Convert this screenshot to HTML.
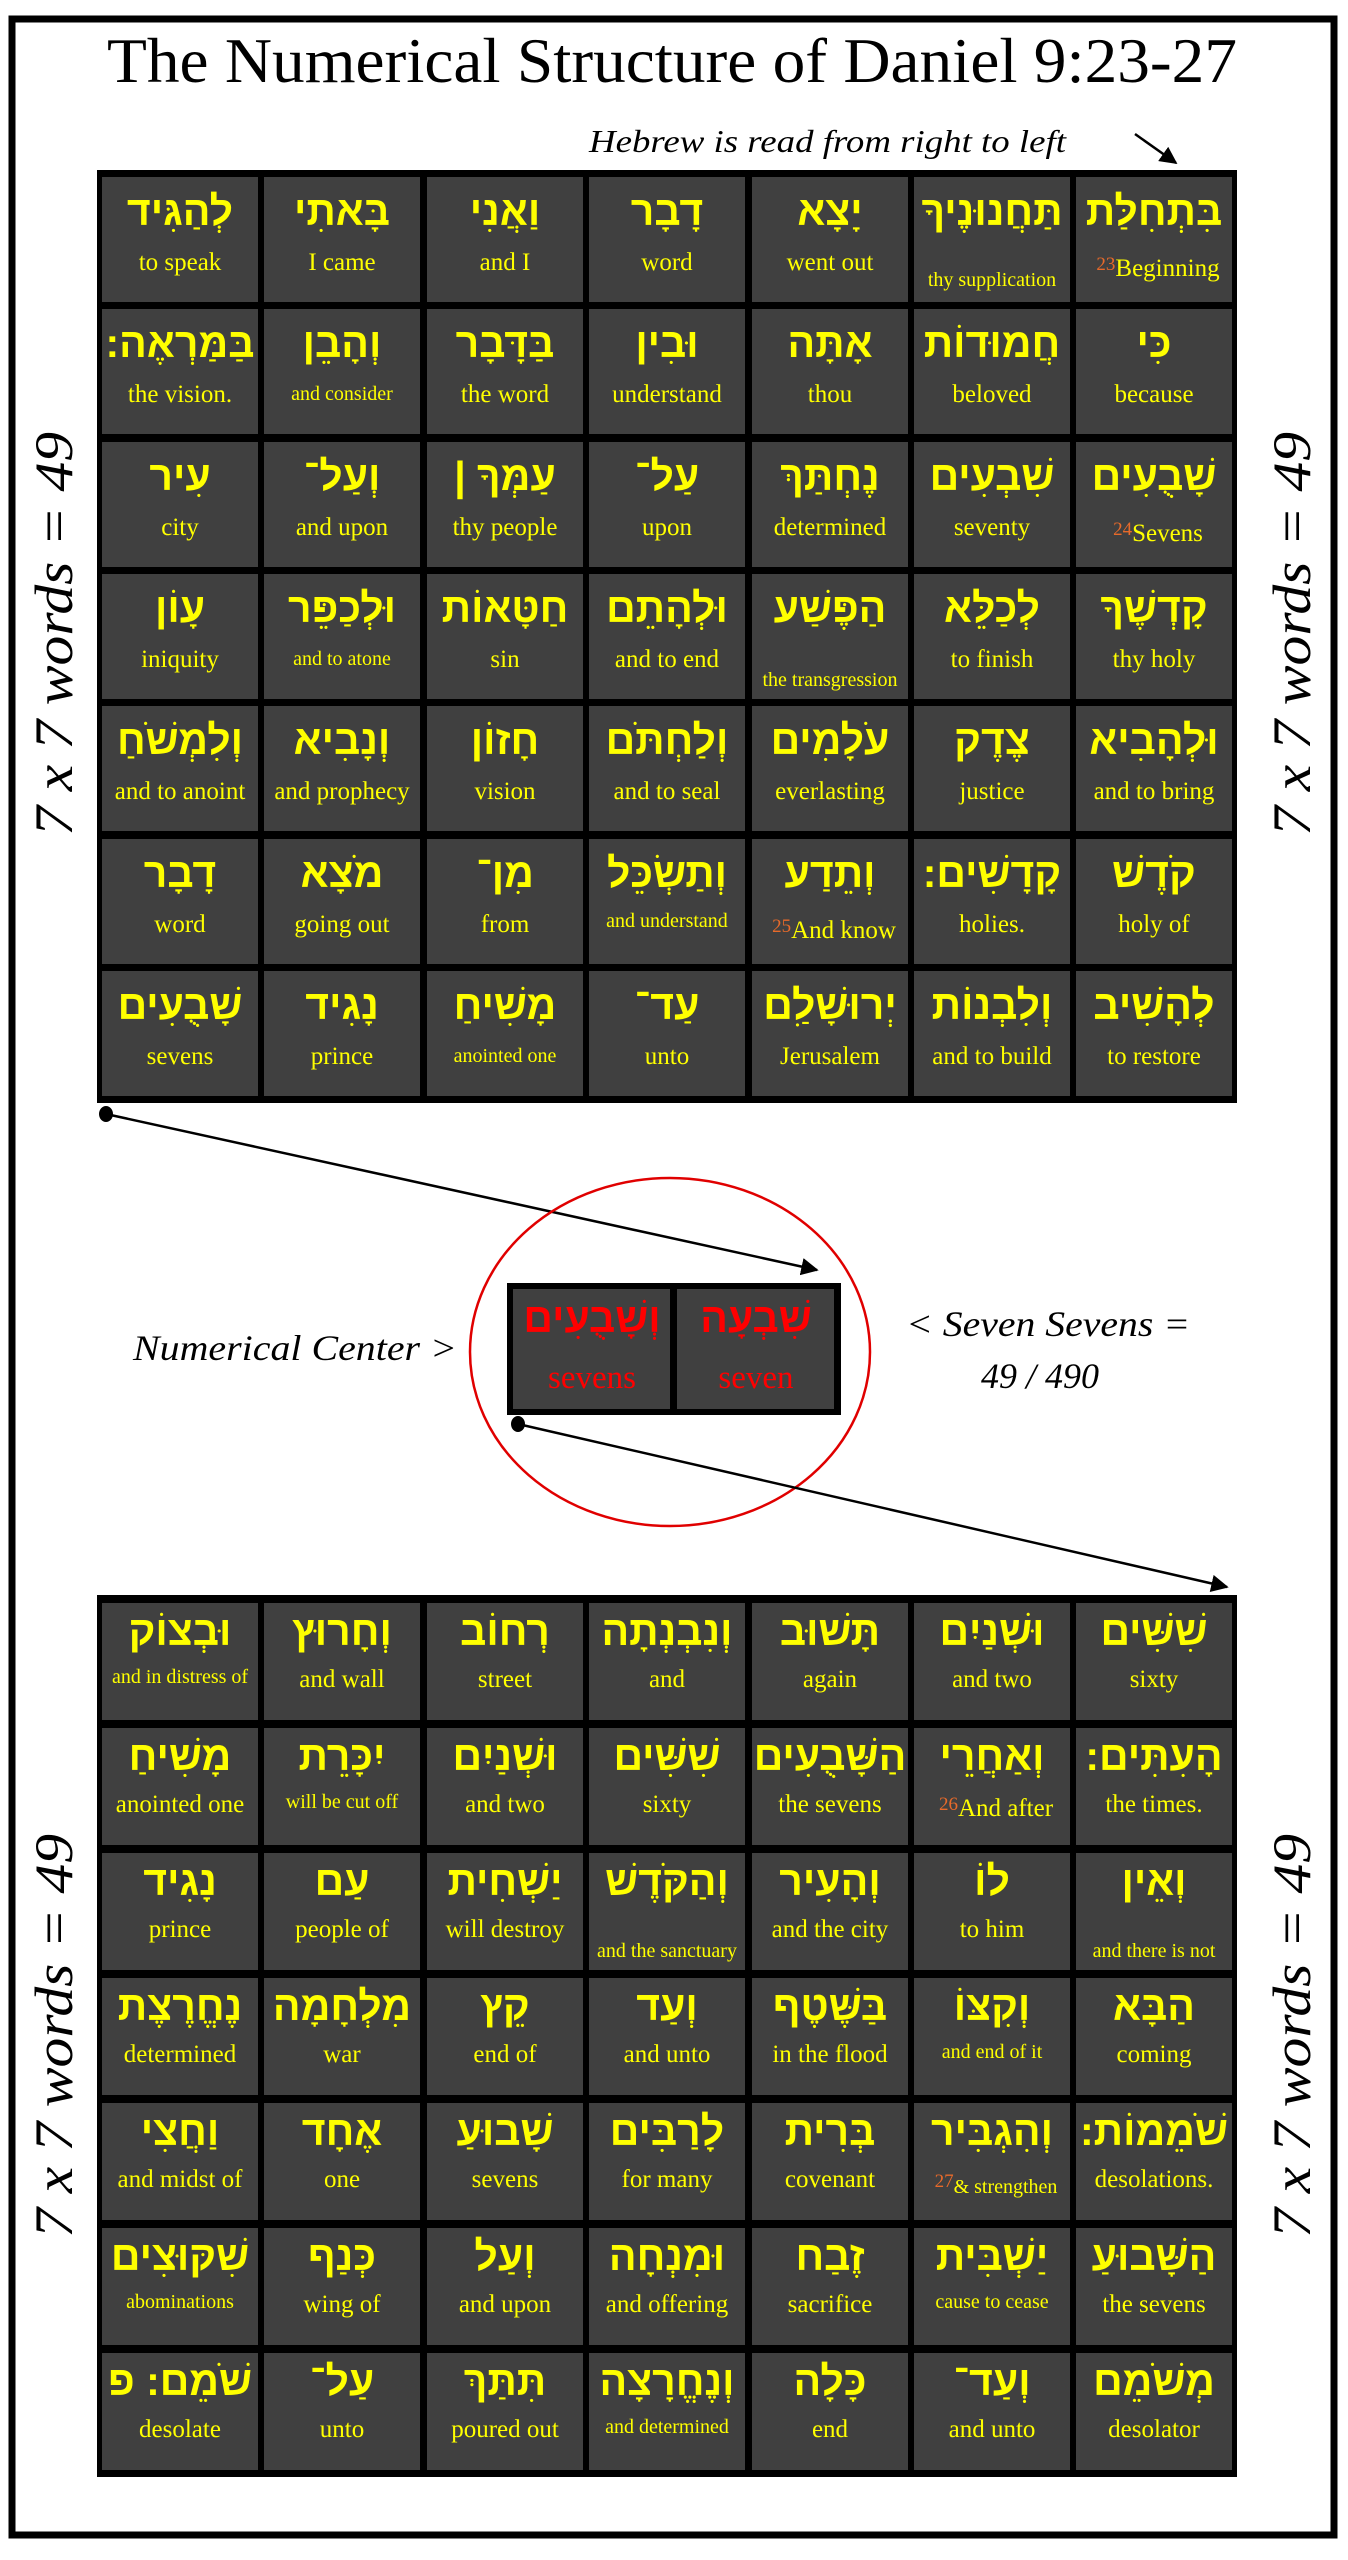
<!DOCTYPE html>
<html><head><meta charset="utf-8"><style>
html,body{margin:0;padding:0;background:#fff}
svg{display:block}
.h{font-family:"Liberation Sans","DejaVu Sans",sans-serif;font-weight:bold;font-size:41px;fill:#ffff00;text-anchor:middle;direction:rtl}
.e{font-family:"Liberation Serif",serif;font-size:25px;fill:#ffff00;text-anchor:middle}
.s{font-family:"Liberation Serif",serif;font-size:20px;fill:#ffff00;text-anchor:middle}
.n{font-size:19px;fill:#e86a2a}
.i{font-family:"Liberation Serif",serif;font-style:italic;fill:#000}
</style></head><body>
<svg width="1348" height="2560" viewBox="0 0 1348 2560" xmlns="http://www.w3.org/2000/svg">
<defs><marker id="ar" viewBox="0 0 10 10" refX="9" refY="5" markerWidth="7" markerHeight="7" orient="auto-start-reverse"><path d="M0,0 L10,5 L0,10 z" fill="#000"/></marker></defs>
<rect x="12" y="19" width="1322" height="2516" fill="none" stroke="#000" stroke-width="7"/>
<text x="672" y="82" font-family="Liberation Serif,serif" font-size="64" text-anchor="middle" textLength="1130" lengthAdjust="spacingAndGlyphs">The Numerical Structure of Daniel 9:23-27</text>
<text class="i" x="589" y="152" font-size="32" textLength="477" lengthAdjust="spacingAndGlyphs">Hebrew is read from right to left</text>
<line x1="1135" y1="134" x2="1176" y2="163" stroke="#000" stroke-width="2.5" marker-end="url(#ar)"/>
<text class="i" transform="translate(72,836) rotate(-90)" font-size="54" textLength="404" lengthAdjust="spacingAndGlyphs">7 x 7 words = 49</text>
<text class="i" transform="translate(1310,836) rotate(-90)" font-size="54" textLength="404" lengthAdjust="spacingAndGlyphs">7 x 7 words = 49</text>
<text class="i" transform="translate(72,2238) rotate(-90)" font-size="54" textLength="404" lengthAdjust="spacingAndGlyphs">7 x 7 words = 49</text>
<text class="i" transform="translate(1310,2238) rotate(-90)" font-size="54" textLength="404" lengthAdjust="spacingAndGlyphs">7 x 7 words = 49</text>

<!-- TOP GRID -->
<rect x="97" y="170" width="1140" height="933" fill="#000"/>
<g fill="#404040">
<g transform="translate(0,177)"><rect x="102" width="156" height="125"/><rect x="264" width="156" height="125"/><rect x="427" width="156" height="125"/><rect x="589" width="156" height="125"/><rect x="752" width="156" height="125"/><rect x="914" width="156" height="125"/><rect x="1076" width="156" height="125"/></g>
<g transform="translate(0,309)"><rect x="102" width="156" height="125"/><rect x="264" width="156" height="125"/><rect x="427" width="156" height="125"/><rect x="589" width="156" height="125"/><rect x="752" width="156" height="125"/><rect x="914" width="156" height="125"/><rect x="1076" width="156" height="125"/></g>
<g transform="translate(0,442)"><rect x="102" width="156" height="125"/><rect x="264" width="156" height="125"/><rect x="427" width="156" height="125"/><rect x="589" width="156" height="125"/><rect x="752" width="156" height="125"/><rect x="914" width="156" height="125"/><rect x="1076" width="156" height="125"/></g>
<g transform="translate(0,574)"><rect x="102" width="156" height="125"/><rect x="264" width="156" height="125"/><rect x="427" width="156" height="125"/><rect x="589" width="156" height="125"/><rect x="752" width="156" height="125"/><rect x="914" width="156" height="125"/><rect x="1076" width="156" height="125"/></g>
<g transform="translate(0,706)"><rect x="102" width="156" height="125"/><rect x="264" width="156" height="125"/><rect x="427" width="156" height="125"/><rect x="589" width="156" height="125"/><rect x="752" width="156" height="125"/><rect x="914" width="156" height="125"/><rect x="1076" width="156" height="125"/></g>
<g transform="translate(0,839)"><rect x="102" width="156" height="125"/><rect x="264" width="156" height="125"/><rect x="427" width="156" height="125"/><rect x="589" width="156" height="125"/><rect x="752" width="156" height="125"/><rect x="914" width="156" height="125"/><rect x="1076" width="156" height="125"/></g>
<g transform="translate(0,971)"><rect x="102" width="156" height="125"/><rect x="264" width="156" height="125"/><rect x="427" width="156" height="125"/><rect x="589" width="156" height="125"/><rect x="752" width="156" height="125"/><rect x="914" width="156" height="125"/><rect x="1076" width="156" height="125"/></g>
</g>
<g transform="translate(0,177)">
<text class="h" x="180" y="48">לְהַגִּיד</text><text class="e" x="180" y="93">to speak</text>
<text class="h" x="342" y="48">בָּאתִי</text><text class="e" x="342" y="93">I came</text>
<text class="h" x="505" y="48">וַאֲנִי</text><text class="e" x="505" y="93">and I</text>
<text class="h" x="667" y="48">דָבָר</text><text class="e" x="667" y="93">word</text>
<text class="h" x="830" y="48">יָצָא</text><text class="e" x="830" y="93">went out</text>
<text class="h" x="992" y="48">תַּחֲנוּנֶיךָ</text><text class="s" x="992" y="109">thy supplication</text>
<text class="h" x="1154" y="48">בִּתְחִלַּת</text><text class="e" x="1158" y="99"><tspan class="n" dy="-6">23</tspan><tspan dy="6">Beginning</tspan></text>
</g>
<g transform="translate(0,309)">
<text class="h" x="180" y="48">בַּמַּרְאֶה:</text><text class="e" x="180" y="93">the vision.</text>
<text class="h" x="342" y="48">וְהָבֵן</text><text class="s" x="342" y="91">and consider</text>
<text class="h" x="505" y="48">בַּדָּבָר</text><text class="e" x="505" y="93">the word</text>
<text class="h" x="667" y="48">וּבִין</text><text class="e" x="667" y="93">understand</text>
<text class="h" x="830" y="48">אָתָּה</text><text class="e" x="830" y="93">thou</text>
<text class="h" x="992" y="48">חֲמוּדוֹת</text><text class="e" x="992" y="93">beloved</text>
<text class="h" x="1154" y="48">כִּי</text><text class="e" x="1154" y="93">because</text>
</g>
<g transform="translate(0,442)">
<text class="h" x="180" y="48">עִיר</text><text class="e" x="180" y="93">city</text>
<text class="h" x="342" y="48">וְעַל־</text><text class="e" x="342" y="93">and upon</text>
<text class="h" x="505" y="48">עַמְּךָ |</text><text class="e" x="505" y="93">thy people</text>
<text class="h" x="667" y="48">עַל־</text><text class="e" x="667" y="93">upon</text>
<text class="h" x="830" y="48">נֶחְתַּךְ</text><text class="e" x="830" y="93">determined</text>
<text class="h" x="992" y="48">שִׁבְעִים</text><text class="e" x="992" y="93">seventy</text>
<text class="h" x="1154" y="48">שָׁבֻעִים</text><text class="e" x="1158" y="99"><tspan class="n" dy="-6">24</tspan><tspan dy="6">Sevens</tspan></text>
</g>
<g transform="translate(0,574)">
<text class="h" x="180" y="48">עָוֹן</text><text class="e" x="180" y="93">iniquity</text>
<text class="h" x="342" y="48">וּלְכַפֵּר</text><text class="s" x="342" y="91">and to atone</text>
<text class="h" x="505" y="48">חַטָּאוֹת</text><text class="e" x="505" y="93">sin</text>
<text class="h" x="667" y="48">וּלְהָתֵם</text><text class="e" x="667" y="93">and to end</text>
<text class="h" x="830" y="48">הַפֶּשַׁע</text><text class="s" x="830" y="112">the transgression</text>
<text class="h" x="992" y="48">לְכַלֵּא</text><text class="e" x="992" y="93">to finish</text>
<text class="h" x="1154" y="48">קָדְשֶׁךָ</text><text class="e" x="1154" y="93">thy holy</text>
</g>
<g transform="translate(0,706)">
<text class="h" x="180" y="48">וְלִמְשֹׁחַ</text><text class="e" x="180" y="93">and to anoint</text>
<text class="h" x="342" y="48">וְנָבִיא</text><text class="e" x="342" y="93">and prophecy</text>
<text class="h" x="505" y="48">חָזוֹן</text><text class="e" x="505" y="93">vision</text>
<text class="h" x="667" y="48">וְלַחְתֹּם</text><text class="e" x="667" y="93">and to seal</text>
<text class="h" x="830" y="48">עֹלָמִים</text><text class="e" x="830" y="93">everlasting</text>
<text class="h" x="992" y="48">צֶדֶק</text><text class="e" x="992" y="93">justice</text>
<text class="h" x="1154" y="48">וּלְהָבִיא</text><text class="e" x="1154" y="93">and to bring</text>
</g>
<g transform="translate(0,839)">
<text class="h" x="180" y="48">דָבָר</text><text class="e" x="180" y="93">word</text>
<text class="h" x="342" y="48">מֹצָא</text><text class="e" x="342" y="93">going out</text>
<text class="h" x="505" y="48">מִן־</text><text class="e" x="505" y="93">from</text>
<text class="h" x="667" y="48">וְתַשְׂכֵּל</text><text class="s" x="667" y="88">and understand</text>
<text class="h" x="830" y="48">וְתֵדַע</text><text class="e" x="834" y="99"><tspan class="n" dy="-6">25</tspan><tspan dy="6">And know</tspan></text>
<text class="h" x="992" y="48">קָדָשִׁים:</text><text class="e" x="992" y="93">holies.</text>
<text class="h" x="1154" y="48">קֹדֶשׁ</text><text class="e" x="1154" y="93">holy of</text>
</g>
<g transform="translate(0,971)">
<text class="h" x="180" y="48">שָׁבֻעִים</text><text class="e" x="180" y="93">sevens</text>
<text class="h" x="342" y="48">נָגִיד</text><text class="e" x="342" y="93">prince</text>
<text class="h" x="505" y="48">מָשִׁיחַ</text><text class="s" x="505" y="91">anointed one</text>
<text class="h" x="667" y="48">עַד־</text><text class="e" x="667" y="93">unto</text>
<text class="h" x="830" y="48">יְרוּשָׁלִַם</text><text class="e" x="830" y="93">Jerusalem</text>
<text class="h" x="992" y="48">וְלִבְנוֹת</text><text class="e" x="992" y="93">and to build</text>
<text class="h" x="1154" y="48">לְהָשִׁיב</text><text class="e" x="1154" y="93">to restore</text>
</g>

<!-- CENTER -->
<line x1="106" y1="1114" x2="817" y2="1270" stroke="#000" stroke-width="2.5" marker-end="url(#ar)"/>
<ellipse cx="106" cy="1114" rx="7" ry="8" fill="#000"/>
<ellipse cx="670" cy="1352" rx="200" ry="174" fill="none" stroke="#e00000" stroke-width="2.5"/>
<rect x="507" y="1283" width="334" height="132" fill="#000"/>
<rect x="513" y="1289" width="157" height="120" fill="#404040"/>
<rect x="677" y="1289" width="157" height="120" fill="#404040"/>
<text class="h" x="592" y="1332" style="fill:#ff0000">וְשָׁבֻעִים</text>
<text class="h" x="756" y="1332" style="fill:#ff0000">שִׁבְעָה</text>
<text class="e" x="592" y="1388" style="fill:#ff0000;font-size:33px">sevens</text>
<text class="e" x="756" y="1388" style="fill:#ff0000;font-size:33px">seven</text>
<line x1="518" y1="1424" x2="1227" y2="1587" stroke="#000" stroke-width="2.5" marker-end="url(#ar)"/>
<ellipse cx="518" cy="1424" rx="7" ry="8" fill="#000"/>
<text class="i" x="133" y="1360" font-size="36" textLength="324" lengthAdjust="spacingAndGlyphs">Numerical Center &gt;</text>
<text class="i" x="906" y="1336" font-size="36" textLength="284" lengthAdjust="spacingAndGlyphs">&lt; Seven Sevens =</text>
<text class="i" x="1040" y="1388" font-size="36" text-anchor="middle">49 / 490</text>

<!-- BOTTOM GRID -->
<rect x="97" y="1595" width="1140" height="882" fill="#000"/>
<g fill="#404040">
<g transform="translate(0,1603)"><rect x="102" width="156" height="117"/><rect x="264" width="156" height="117"/><rect x="427" width="156" height="117"/><rect x="589" width="156" height="117"/><rect x="752" width="156" height="117"/><rect x="914" width="156" height="117"/><rect x="1076" width="156" height="117"/></g>
<g transform="translate(0,1728)"><rect x="102" width="156" height="117"/><rect x="264" width="156" height="117"/><rect x="427" width="156" height="117"/><rect x="589" width="156" height="117"/><rect x="752" width="156" height="117"/><rect x="914" width="156" height="117"/><rect x="1076" width="156" height="117"/></g>
<g transform="translate(0,1853)"><rect x="102" width="156" height="117"/><rect x="264" width="156" height="117"/><rect x="427" width="156" height="117"/><rect x="589" width="156" height="117"/><rect x="752" width="156" height="117"/><rect x="914" width="156" height="117"/><rect x="1076" width="156" height="117"/></g>
<g transform="translate(0,1978)"><rect x="102" width="156" height="117"/><rect x="264" width="156" height="117"/><rect x="427" width="156" height="117"/><rect x="589" width="156" height="117"/><rect x="752" width="156" height="117"/><rect x="914" width="156" height="117"/><rect x="1076" width="156" height="117"/></g>
<g transform="translate(0,2103)"><rect x="102" width="156" height="117"/><rect x="264" width="156" height="117"/><rect x="427" width="156" height="117"/><rect x="589" width="156" height="117"/><rect x="752" width="156" height="117"/><rect x="914" width="156" height="117"/><rect x="1076" width="156" height="117"/></g>
<g transform="translate(0,2228)"><rect x="102" width="156" height="117"/><rect x="264" width="156" height="117"/><rect x="427" width="156" height="117"/><rect x="589" width="156" height="117"/><rect x="752" width="156" height="117"/><rect x="914" width="156" height="117"/><rect x="1076" width="156" height="117"/></g>
<g transform="translate(0,2353)"><rect x="102" width="156" height="117"/><rect x="264" width="156" height="117"/><rect x="427" width="156" height="117"/><rect x="589" width="156" height="117"/><rect x="752" width="156" height="117"/><rect x="914" width="156" height="117"/><rect x="1076" width="156" height="117"/></g>
</g>
<g transform="translate(0,1603)">
<text class="h" x="180" y="42">וּבְצוֹק</text><text class="s" x="180" y="80">and in distress of</text>
<text class="h" x="342" y="42">וְחָרוּץ</text><text class="e" x="342" y="84">and wall</text>
<text class="h" x="505" y="42">רְחוֹב</text><text class="e" x="505" y="84">street</text>
<text class="h" x="667" y="42">וְנִבְנְתָה</text><text class="e" x="667" y="84">and</text>
<text class="h" x="830" y="42">תָּשׁוּב</text><text class="e" x="830" y="84">again</text>
<text class="h" x="992" y="42">וּשְׁנַיִם</text><text class="e" x="992" y="84">and two</text>
<text class="h" x="1154" y="42">שִׁשִּׁים</text><text class="e" x="1154" y="84">sixty</text>
</g>
<g transform="translate(0,1728)">
<text class="h" x="180" y="42">מָשִׁיחַ</text><text class="e" x="180" y="84">anointed one</text>
<text class="h" x="342" y="42">יִכָּרֵת</text><text class="s" x="342" y="80">will be cut off</text>
<text class="h" x="505" y="42">וּשְׁנַיִם</text><text class="e" x="505" y="84">and two</text>
<text class="h" x="667" y="42">שִׁשִּׁים</text><text class="e" x="667" y="84">sixty</text>
<text class="h" x="830" y="42">הַשָּׁבֻעִים</text><text class="e" x="830" y="84">the sevens</text>
<text class="h" x="992" y="42">וְאַחֲרֵי</text><text class="e" x="996" y="88"><tspan class="n" dy="-6">26</tspan><tspan dy="6">And after</tspan></text>
<text class="h" x="1154" y="42">הָעִתִּים:</text><text class="e" x="1154" y="84">the times.</text>
</g>
<g transform="translate(0,1853)">
<text class="h" x="180" y="42">נָגִיד</text><text class="e" x="180" y="84">prince</text>
<text class="h" x="342" y="42">עַם</text><text class="e" x="342" y="84">people of</text>
<text class="h" x="505" y="42">יַשְׁחִית</text><text class="e" x="505" y="84">will destroy</text>
<text class="h" x="667" y="42">וְהַקֹּדֶשׁ</text><text class="s" x="667" y="104">and the sanctuary</text>
<text class="h" x="830" y="42">וְהָעִיר</text><text class="e" x="830" y="84">and the city</text>
<text class="h" x="992" y="42">לוֹ</text><text class="e" x="992" y="84">to him</text>
<text class="h" x="1154" y="42">וְאֵין</text><text class="s" x="1154" y="104">and there is not</text>
</g>
<g transform="translate(0,1978)">
<text class="h" x="180" y="42">נֶחֱרֶצֶת</text><text class="e" x="180" y="84">determined</text>
<text class="h" x="342" y="42">מִלְחָמָה</text><text class="e" x="342" y="84">war</text>
<text class="h" x="505" y="42">קֵץ</text><text class="e" x="505" y="84">end of</text>
<text class="h" x="667" y="42">וְעַד</text><text class="e" x="667" y="84">and unto</text>
<text class="h" x="830" y="42">בַּשֶּׁטֶף</text><text class="e" x="830" y="84">in the flood</text>
<text class="h" x="992" y="42">וְקִצּוֹ</text><text class="s" x="992" y="80">and end of it</text>
<text class="h" x="1154" y="42">הַבָּא</text><text class="e" x="1154" y="84">coming</text>
</g>
<g transform="translate(0,2103)">
<text class="h" x="180" y="42">וַחֲצִי</text><text class="e" x="180" y="84">and midst of</text>
<text class="h" x="342" y="42">אֶחָד</text><text class="e" x="342" y="84">one</text>
<text class="h" x="505" y="42">שָׁבוּעַ</text><text class="e" x="505" y="84">sevens</text>
<text class="h" x="667" y="42">לָרַבִּים</text><text class="e" x="667" y="84">for many</text>
<text class="h" x="830" y="42">בְּרִית</text><text class="e" x="830" y="84">covenant</text>
<text class="h" x="992" y="42">וְהִגְבִּיר</text><text class="s" x="996" y="90"><tspan class="n" dy="-6">27</tspan><tspan dy="6">&amp; strengthen</tspan></text>
<text class="h" x="1154" y="42">שֹׁמֵמוֹת:</text><text class="e" x="1154" y="84">desolations.</text>
</g>
<g transform="translate(0,2228)">
<text class="h" x="180" y="42">שִׁקּוּצִים</text><text class="s" x="180" y="80">abominations</text>
<text class="h" x="342" y="42">כְּנַף</text><text class="e" x="342" y="84">wing of</text>
<text class="h" x="505" y="42">וְעַל</text><text class="e" x="505" y="84">and upon</text>
<text class="h" x="667" y="42">וּמִנְחָה</text><text class="e" x="667" y="84">and offering</text>
<text class="h" x="830" y="42">זֶבַח</text><text class="e" x="830" y="84">sacrifice</text>
<text class="h" x="992" y="42">יַשְׁבִּית</text><text class="s" x="992" y="80">cause to cease</text>
<text class="h" x="1154" y="42">הַשָּׁבוּעַ</text><text class="e" x="1154" y="84">the sevens</text>
</g>
<g transform="translate(0,2353)">
<text class="h" x="180" y="42">שֹׁמֵם: פ</text><text class="e" x="180" y="84">desolate</text>
<text class="h" x="342" y="42">עַל־</text><text class="e" x="342" y="84">unto</text>
<text class="h" x="505" y="42">תִּתַּךְ</text><text class="e" x="505" y="84">poured out</text>
<text class="h" x="667" y="42">וְנֶחֱרָצָה</text><text class="s" x="667" y="80">and determined</text>
<text class="h" x="830" y="42">כָּלָה</text><text class="e" x="830" y="84">end</text>
<text class="h" x="992" y="42">וְעַד־</text><text class="e" x="992" y="84">and unto</text>
<text class="h" x="1154" y="42">מְשֹׁמֵם</text><text class="e" x="1154" y="84">desolator</text>
</g>
</svg>
</body></html>
